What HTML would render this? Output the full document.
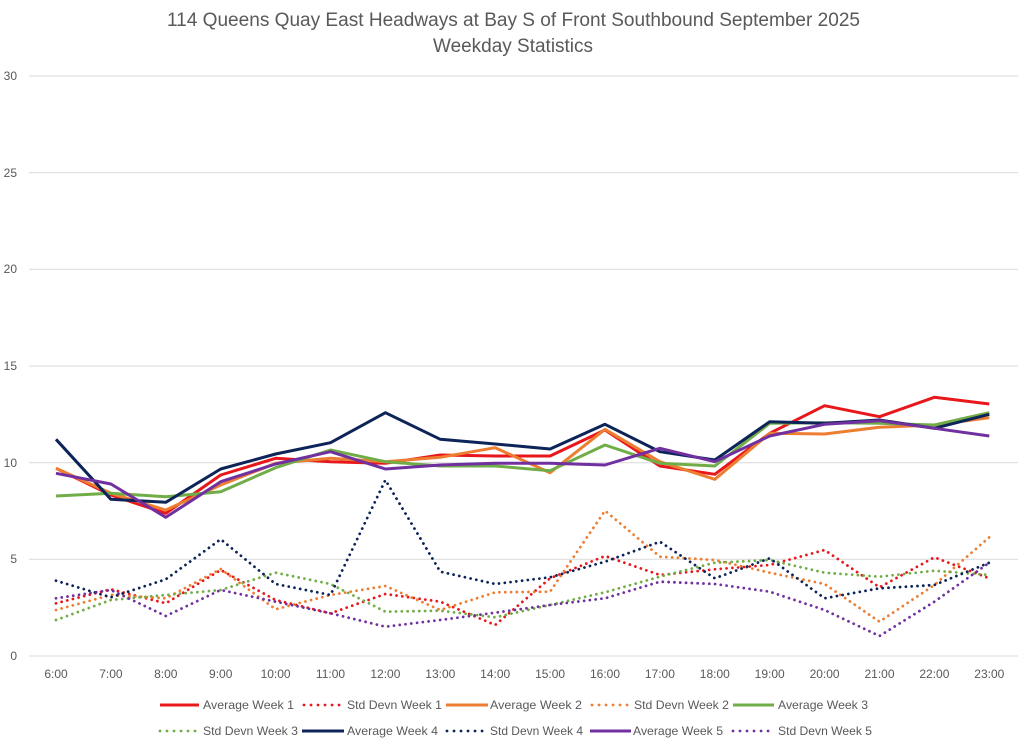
<!DOCTYPE html>
<html><head><meta charset="utf-8"><style>
html,body{margin:0;padding:0;background:#fff;}
svg{display:block;}
text{font-family:"Liberation Sans",sans-serif;fill:#595959;}
</style></head><body>
<svg width="1024" height="741" viewBox="0 0 1024 741" xmlns="http://www.w3.org/2000/svg">
<rect width="1024" height="741" fill="#fff"/>
<text x="167" y="26" font-size="19" textLength="693" lengthAdjust="spacingAndGlyphs">114 Queens Quay East Headways at Bay S of Front Southbound September 2025</text>
<text x="433" y="52" font-size="19" textLength="160" lengthAdjust="spacingAndGlyphs">Weekday Statistics</text>
<g stroke="#D9D9D9" stroke-width="1">
<line x1="29" y1="76" x2="1018" y2="76"/>
<line x1="29" y1="172.7" x2="1018" y2="172.7"/>
<line x1="29" y1="269.3" x2="1018" y2="269.3"/>
<line x1="29" y1="366" x2="1018" y2="366"/>
<line x1="29" y1="462.7" x2="1018" y2="462.7"/>
<line x1="29" y1="559.3" x2="1018" y2="559.3"/>
<line x1="29" y1="656" x2="1018" y2="656"/>
</g>
<g font-size="12" text-anchor="end">
<text x="17" y="80">30</text>
<text x="17" y="177">25</text>
<text x="17" y="273">20</text>
<text x="17" y="370">15</text>
<text x="17" y="467">10</text>
<text x="17" y="563">5</text>
<text x="17" y="660">0</text>
</g>
<g font-size="12" text-anchor="middle">
<text x="56" y="678">6:00</text>
<text x="110.9" y="678">7:00</text>
<text x="165.8" y="678">8:00</text>
<text x="220.7" y="678">9:00</text>
<text x="275.6" y="678">10:00</text>
<text x="330.5" y="678">11:00</text>
<text x="385.4" y="678">12:00</text>
<text x="440.3" y="678">13:00</text>
<text x="495.2" y="678">14:00</text>
<text x="550.1" y="678">15:00</text>
<text x="605" y="678">16:00</text>
<text x="659.9" y="678">17:00</text>
<text x="714.8" y="678">18:00</text>
<text x="769.7" y="678">19:00</text>
<text x="824.6" y="678">20:00</text>
<text x="879.5" y="678">21:00</text>
<text x="934.4" y="678">22:00</text>
<text x="989.3" y="678">23:00</text>
</g>
<g fill="none" stroke-linejoin="round">
<polyline stroke="#E8171C" stroke-width="3" points="56,468.3 110.9,495 165.8,513.3 220.7,475 275.6,458.3 330.5,461.7 385.4,463.3 440.3,455 495.2,456 550.1,456 605,430 659.9,466 714.8,474.3 769.7,433.3 824.6,405.7 879.5,416.7 934.4,397.3 989.3,404"/>
<polyline stroke="#E8171C" stroke-width="2.8" stroke-linecap="round" stroke-dasharray="0.01 5.8" points="56,603.3 110.9,589.3 165.8,603.3 220.7,570 275.6,600 330.5,613.3 385.4,594 440.3,601.7 495.2,625 550.1,578.3 605,556 659.9,575 714.8,569.3 769.7,565 824.6,550 879.5,587.3 934.4,557.3 989.3,578.3"/>
<polyline stroke="#ED7D31" stroke-width="3" points="56,468.3 110.9,493.3 165.8,510 220.7,485 275.6,463.3 330.5,458.3 385.4,461.7 440.3,457.3 495.2,447.7 550.1,472.7 605,429.3 659.9,461.7 714.8,479.3 769.7,433.3 824.6,434 879.5,427.3 934.4,425 989.3,417.7"/>
<polyline stroke="#ED7D31" stroke-width="2.8" stroke-linecap="round" stroke-dasharray="0.01 5.8" points="56,610 110.9,595 165.8,598.3 220.7,569 275.6,609.3 330.5,595 385.4,586 440.3,610 495.2,592.3 550.1,591.7 605,510.7 659.9,556.7 714.8,560 769.7,572.7 824.6,584 879.5,621.7 934.4,585 989.3,537.3"/>
<polyline stroke="#70AD47" stroke-width="3" points="56,496 110.9,493.3 165.8,496.7 220.7,491.7 275.6,467.7 330.5,450 385.4,461.7 440.3,466 495.2,466 550.1,470.7 605,445 659.9,463.3 714.8,466 769.7,423.3 824.6,422.7 879.5,423.3 934.4,425 989.3,412.7"/>
<polyline stroke="#70AD47" stroke-width="2.8" stroke-linecap="round" stroke-dasharray="0.01 5.8" points="56,620 110.9,600 165.8,595 220.7,590 275.6,572.7 330.5,584 385.4,611.7 440.3,610.7 495.2,617.3 550.1,605 605,592.3 659.9,576.7 714.8,562.7 769.7,560 824.6,572.7 879.5,576.7 934.4,570.7 989.3,575"/>
<polyline stroke="#0D2459" stroke-width="3" points="56,439.3 110.9,499.3 165.8,502.3 220.7,469 275.6,454 330.5,442.7 385.4,412.7 440.3,439.3 495.2,444 550.1,449 605,424.3 659.9,451.7 714.8,460 769.7,421.7 824.6,423.3 879.5,420 934.4,428.3 989.3,414.3"/>
<polyline stroke="#0D2459" stroke-width="2.8" stroke-linecap="round" stroke-dasharray="0.01 5.8" points="56,580.7 110.9,597.3 165.8,579.3 220.7,539.3 275.6,584 330.5,595 385.4,480 440.3,571.7 495.2,584 550.1,577.3 605,561.7 659.9,541.7 714.8,578.3 769.7,558.3 824.6,598.3 879.5,588.3 934.4,585 989.3,562.7"/>
<polyline stroke="#7030A0" stroke-width="3" points="56,473.3 110.9,484 165.8,517.3 220.7,481.7 275.6,464 330.5,451.7 385.4,469 440.3,465 495.2,463.3 550.1,463.3 605,465 659.9,448.3 714.8,461.7 769.7,436 824.6,424.3 879.5,420.7 934.4,428.3 989.3,436"/>
<polyline stroke="#7030A0" stroke-width="2.8" stroke-linecap="round" stroke-dasharray="0.01 5.8" points="56,598.3 110.9,590 165.8,616 220.7,590 275.6,601.7 330.5,613.3 385.4,626.7 440.3,620 495.2,612.7 550.1,605 605,598.3 659.9,581.7 714.8,584 769.7,591.7 824.6,610 879.5,636 934.4,601.7 989.3,562.7"/>
</g>
<g fill="none">
<line x1="160" y1="705" x2="199" y2="705" stroke="#E8171C" stroke-width="3"/>
<line x1="304" y1="705" x2="340" y2="705" stroke="#E8171C" stroke-width="2.8" stroke-linecap="round" stroke-dasharray="0.01 7"/>
<line x1="446" y1="705" x2="488" y2="705" stroke="#ED7D31" stroke-width="3"/>
<line x1="592" y1="705" x2="628" y2="705" stroke="#ED7D31" stroke-width="2.8" stroke-linecap="round" stroke-dasharray="0.01 7"/>
<line x1="733" y1="705" x2="774" y2="705" stroke="#70AD47" stroke-width="3"/>
<line x1="160" y1="731" x2="196" y2="731" stroke="#70AD47" stroke-width="2.8" stroke-linecap="round" stroke-dasharray="0.01 7"/>
<line x1="302" y1="731" x2="344" y2="731" stroke="#0D2459" stroke-width="3"/>
<line x1="447" y1="731" x2="483" y2="731" stroke="#0D2459" stroke-width="2.8" stroke-linecap="round" stroke-dasharray="0.01 7"/>
<line x1="590" y1="731" x2="631" y2="731" stroke="#7030A0" stroke-width="3"/>
<line x1="733" y1="731" x2="769" y2="731" stroke="#7030A0" stroke-width="2.8" stroke-linecap="round" stroke-dasharray="0.01 7"/>
</g>
<g font-size="12">
<text x="203" y="709" textLength="91" lengthAdjust="spacingAndGlyphs">Average Week 1</text>
<text x="347" y="709" textLength="95" lengthAdjust="spacingAndGlyphs">Std Devn Week 1</text>
<text x="490" y="709" textLength="92" lengthAdjust="spacingAndGlyphs">Average Week 2</text>
<text x="634" y="709" textLength="95" lengthAdjust="spacingAndGlyphs">Std Devn Week 2</text>
<text x="778" y="709" textLength="90" lengthAdjust="spacingAndGlyphs">Average Week 3</text>
<text x="203" y="735" textLength="95" lengthAdjust="spacingAndGlyphs">Std Devn Week 3</text>
<text x="347" y="735" textLength="91" lengthAdjust="spacingAndGlyphs">Average Week 4</text>
<text x="490" y="735" textLength="93" lengthAdjust="spacingAndGlyphs">Std Devn Week 4</text>
<text x="633" y="735" textLength="90" lengthAdjust="spacingAndGlyphs">Average Week 5</text>
<text x="778" y="735" textLength="94" lengthAdjust="spacingAndGlyphs">Std Devn Week 5</text>
</g>
</svg>
</body></html>
